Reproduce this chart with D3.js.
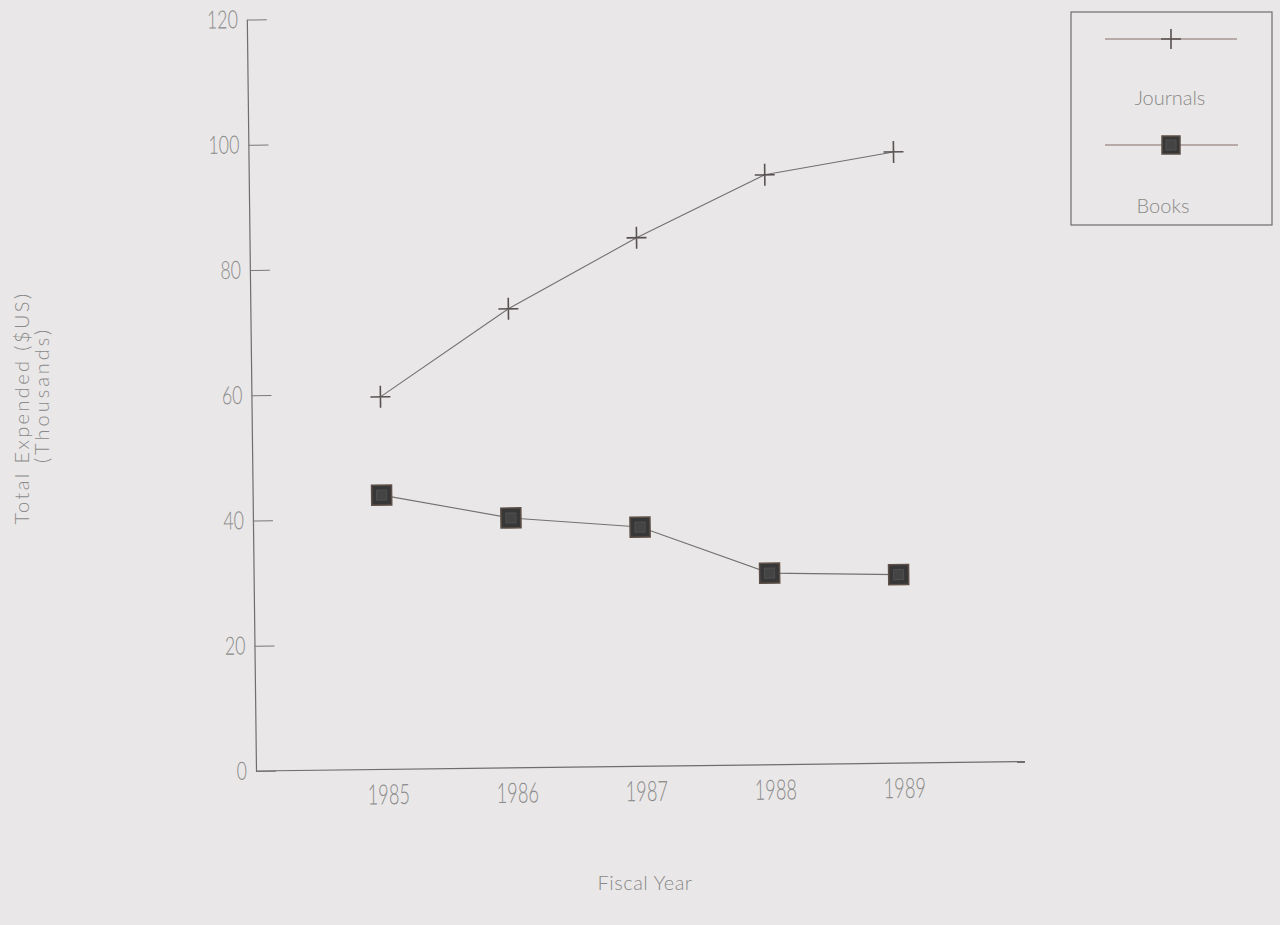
<!DOCTYPE html>
<html>
<head>
<meta charset="utf-8">
<script src="https://cdnjs.cloudflare.com/ajax/libs/d3/7.8.5/d3.min.js"></script>
<style>
  body { margin: 0; background: #e9e7e7; }
  svg { display: block; }
  .lbl { font-family: Lato, "DejaVu Sans", sans-serif; font-weight: 300; fill: #8a8a8a; }
</style>
</head>
<body>
<script>
// chart data
const years = [1985, 1986, 1987, 1988, 1989];
const journals = [59.5, 73.3, 84.4, 94.2, 97.6];
const books = [43.8, 39.9, 38.2, 30.6, 30.1];
const yTicks = [0, 20, 40, 60, 80, 100, 120];
const seriesNames = ['Journals', 'Books'];

const width = 1280, height = 925;
const origin = {x: 256, y: 771};
const plotW = 774, plotH = 751.5;

const svg = d3.select('body').append('svg')
    .attr('width', width)
    .attr('height', height);

svg.append('rect')
    .attr('width', width)
    .attr('height', height)
    .attr('fill', '#e9e7e7');

// scanned page is slightly skewed, so rotate the plot a little
const g = svg.append('g')
    .attr('transform', `translate(${origin.x},${origin.y}) rotate(-0.7)`);

const x = d3.scaleLinear().domain([1984, 1990]).range([0, plotW]);
const y = d3.scaleLinear().domain([0, 120]).range([0, -plotH]);

// y axis, ticks point inwards
const yAxis = g.append('g')
    .call(d3.axisLeft(y).tickValues(yTicks).tickSize(-20).tickSizeOuter(0).tickPadding(9));
yAxis.select('.domain').attr('stroke', '#6e6e6e').attr('stroke-width', 1.2);
yAxis.selectAll('.tick line').attr('stroke', '#7a7a7a').attr('stroke-width', 1.1);
yAxis.selectAll('.tick text')
    .attr('class', 'lbl')
    .attr('font-size', 25)
    .attr('fill', '#8c8c8c')
    .attr('x', -9 / 0.71)
    .attr('transform', 'scale(0.71,1)');

// x axis, labels only
const xAxis = g.append('g')
    .call(d3.axisBottom(x).tickValues(years).tickFormat(d3.format('d')).tickSize(0).tickPadding(15));
xAxis.select('.domain').attr('stroke', '#6e6e6e').attr('stroke-width', 1.2)
    .attr('d', `M0,0H${plotW - 5}`);
xAxis.selectAll('.tick text')
    .attr('class', 'lbl')
    .attr('font-size', 28)
    .attr('fill', '#8c8c8c')
    .attr('x', 3 / 0.65)
    .attr('transform', 'scale(0.65,1)');

const line = d3.line()
    .x((d, i) => x(years[i]))
    .y(d => y(d));

// Journals
g.append('path')
    .datum(journals)
    .attr('d', line)
    .attr('fill', 'none')
    .attr('stroke', '#737070')
    .attr('stroke-width', 1.1);

g.selectAll('.plus')
    .data(journals)
    .enter().append('path')
    .attr('class', 'plus')
    .attr('transform', (d, i) => `translate(${x(years[i])},${y(d)})`)
    .attr('d', 'M-10,0H10M0,-11V11')
    .attr('stroke', '#5a5252')
    .attr('stroke-width', 1.6);

// Books
g.append('path')
    .datum(books)
    .attr('d', line)
    .attr('fill', 'none')
    .attr('stroke', '#737070')
    .attr('stroke-width', 1.1);

const sq = g.selectAll('.sq')
    .data(books)
    .enter().append('g')
    .attr('class', 'sq')
    .attr('transform', (d, i) => `translate(${x(years[i])},${y(d)})`);
sq.append('rect')
    .attr('x', -10).attr('y', -10).attr('width', 20).attr('height', 20)
    .attr('fill', '#373737').attr('stroke', '#5e5048').attr('stroke-width', 1.5);
sq.append('rect')
    .attr('x', -5).attr('y', -5).attr('width', 10).attr('height', 10)
    .attr('fill', '#444').attr('stroke', '#505050');

// axis titles
svg.append('text')
    .attr('class', 'lbl')
    .attr('x', 645).attr('y', 890)
    .attr('text-anchor', 'middle')
    .attr('font-size', 20)
    .attr('letter-spacing', 0.5)
    .text('Fiscal Year');

svg.append('text')
    .attr('class', 'lbl')
    .attr('transform', 'translate(29,408) rotate(-90)')
    .attr('text-anchor', 'middle')
    .attr('font-size', 20)
    .attr('letter-spacing', 2.4)
    .text('Total Expended ($US)');

svg.append('text')
    .attr('class', 'lbl')
    .attr('transform', 'translate(49,395) rotate(-90)')
    .attr('text-anchor', 'middle')
    .attr('font-size', 20)
    .attr('letter-spacing', 3)
    .text('(Thousands)');

// legend
const leg = svg.append('g').attr('transform', 'translate(1071,12)');
leg.append('rect')
    .attr('width', 201).attr('height', 213)
    .attr('fill', 'none').attr('stroke', '#6e6e6e').attr('stroke-width', 1.2);

leg.append('line')
    .attr('x1', 34).attr('x2', 166).attr('y1', 27).attr('y2', 27)
    .attr('stroke', '#866f6a').attr('stroke-width', 1.2);
leg.append('path')
    .attr('transform', 'translate(100,27)')
    .attr('d', 'M-10,0H10M0,-10V10')
    .attr('stroke', '#5a5252').attr('stroke-width', 1.6);

leg.append('line')
    .attr('x1', 34).attr('x2', 167).attr('y1', 133).attr('y2', 133)
    .attr('stroke', '#866f6a').attr('stroke-width', 1.2);
leg.append('rect')
    .attr('x', 91).attr('y', 124).attr('width', 18).attr('height', 18)
    .attr('fill', '#373737').attr('stroke', '#5e5048').attr('stroke-width', 1.5);
leg.append('rect')
    .attr('x', 95).attr('y', 128).attr('width', 10).attr('height', 10)
    .attr('fill', '#444').attr('stroke', '#505050');

leg.selectAll('.legtext')
    .data(seriesNames)
    .enter().append('text')
    .attr('class', 'lbl')
    .attr('x', (d, i) => i === 0 ? 99 : 92)
    .attr('y', (d, i) => i === 0 ? 93 : 201)
    .attr('text-anchor', 'middle')
    .attr('font-size', 20)
    .text(d => d);
</script>
</body>
</html>
